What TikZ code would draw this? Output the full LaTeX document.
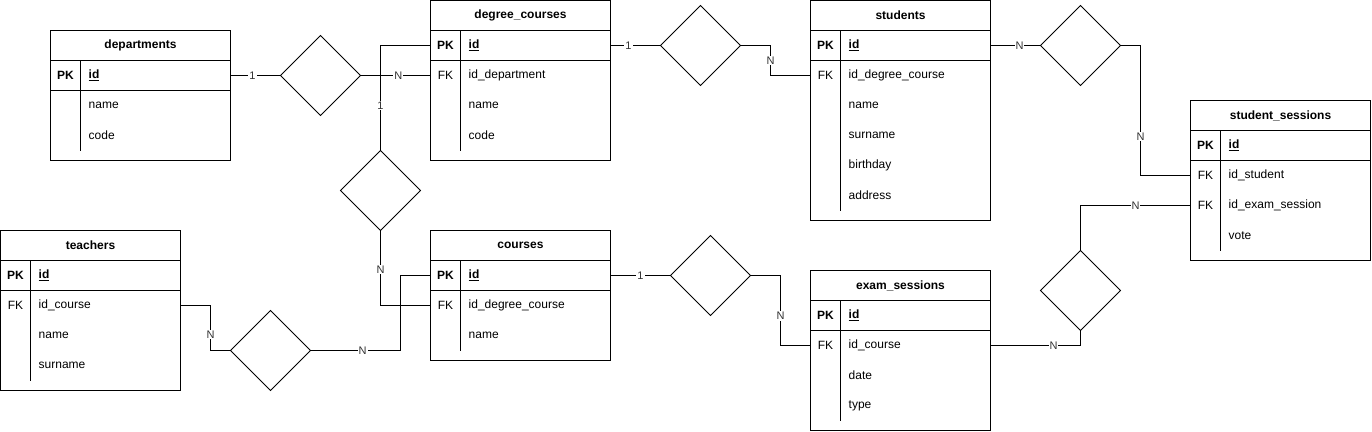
\documentclass[tikz,border=0pt]{standalone}
\usepackage{fontspec}
\setmainfont{Liberation Sans}
\usetikzlibrary{shapes.geometric,calc}
\tikzset{
  tbl/.style={draw, line width=1pt, minimum width=180pt, anchor=north west, inner sep=0pt, outer sep=0pt},
  rowbox/.style={minimum width=180pt, minimum height=30pt, inner sep=0pt, outer sep=0pt},
  titletext/.style={font=\fontsize{12}{14}\selectfont\bfseries, inner sep=0pt},
  keytext/.style={font=\fontsize{12}{14}\selectfont, inner sep=0pt},
  fieldtext/.style={font=\fontsize{12}{14}\selectfont, anchor=west, inner sep=0pt},
  rel/.style={diamond, draw, line width=1pt, minimum width=80pt, minimum height=80pt, inner sep=0pt, outer sep=0pt},
  conn/.style={line width=1pt},
  lbl/.style={font=\fontsize{11}{13}\selectfont, text=black!80, fill=white, inner sep=1pt},
}
\newcommand\ertable[5]{% name, left x, top y, title, height
  \node[tbl, minimum height=#5pt] (#1) at (#2,#3) {};
  \node[titletext] (#1-t) at ({#2+90},{#3+15}) {#4};
  \draw[line width=1pt] (#2,{#3+30}) -- ({#2+180},{#3+30});
  \draw[line width=1pt] (#2,{#3+60}) -- ({#2+180},{#3+60});
  \draw[line width=1pt] ({#2+30},{#3+30}) -- ({#2+30},{#3+#5-10});
}
\newcommand\errow[5]{% node name, left x, centre y, key, field
  \node[rowbox] (#1) at ({#2+90},#3) {};
  \node[keytext] (#1-k) at ({#2+15},#3) {#4};
  \node[fieldtext] (#1-f) at ({#2+38},#3) {#5};
}
\newcommand\pkfield{\textbf{\underline{id}}}
\begin{document}
\begin{tikzpicture}[x=1pt,y=-1pt]
\useasboundingbox (-0.5,-0.5) rectangle (1371.5,430.5);

% departments
\ertable{dep}{50}{30}{departments}{130}
\errow{dep-pk}{50}{75}{\textbf{PK}}{\pkfield}
\errow{dep-r1}{50}{105}{}{name}
\errow{dep-r2}{50}{135}{}{code}

% degree_courses
\ertable{dc}{430}{0}{degree\_courses}{160}
\errow{dc-pk}{430}{45}{\textbf{PK}}{\pkfield}
\errow{dc-fk}{430}{75}{FK}{id\_department}
\errow{dc-r1}{430}{105}{}{name}
\errow{dc-r2}{430}{135}{}{code}

% students
\ertable{st}{810}{0}{students}{220}
\errow{st-pk}{810}{45}{\textbf{PK}}{\pkfield}
\errow{st-fk}{810}{75}{FK}{id\_degree\_course}
\errow{st-r1}{810}{105}{}{name}
\errow{st-r2}{810}{135}{}{surname}
\errow{st-r3}{810}{165}{}{birthday}
\errow{st-r4}{810}{195}{}{address}

% student_sessions
\ertable{ss}{1190}{100}{student\_sessions}{160}
\errow{ss-pk}{1190}{145}{\textbf{PK}}{\pkfield}
\errow{ss-fk1}{1190}{175}{FK}{id\_student}
\errow{ss-fk2}{1190}{205}{FK}{id\_exam\_session}
\errow{ss-r1}{1190}{235}{}{vote}

% teachers
\ertable{te}{0}{230}{teachers}{160}
\errow{te-pk}{0}{275}{\textbf{PK}}{\pkfield}
\errow{te-fk}{0}{305}{FK}{id\_course}
\errow{te-r1}{0}{335}{}{name}
\errow{te-r2}{0}{365}{}{surname}

% courses
\ertable{cs}{430}{230}{courses}{130}
\errow{cs-pk}{430}{275}{\textbf{PK}}{\pkfield}
\errow{cs-fk}{430}{305}{FK}{id\_degree\_course}
\errow{cs-r1}{430}{335}{}{name}

% exam_sessions
\ertable{ex}{810}{270}{exam\_sessions}{160}
\errow{ex-pk}{810}{315}{\textbf{PK}}{\pkfield}
\errow{ex-fk}{810}{345}{FK}{id\_course}
\errow{ex-r1}{810}{375}{}{date}
\errow{ex-r2}{810}{405}{}{type}

% relationships
\node[rel] (r1) at (320,75) {};
\node[rel] (r2) at (700,45) {};
\node[rel] (r3) at (1080,45) {};
\node[rel] (r4) at (380,190) {};
\node[rel] (r5) at (270,350) {};
\node[rel] (r6) at (710,275) {};
\node[rel] (r7) at (1080,290) {};

% connectors
\draw[conn] (dep-pk.east) -- node[lbl, pos=0.44] {1} (r1.west);
\draw[conn] (r1.east) -- node[lbl, pos=0.54] {N} (dc-fk.west);
\draw[conn] (dc-pk.west) -| node[lbl, pos=0.785] {1} (r4.north);
\draw[conn] (r4.south) |- node[lbl, pos=0.26] {N} (cs-fk.west);
\draw[conn] (dc-pk.east) -- node[lbl, pos=0.36] {1} (r2.west);
\draw[conn] (r2.east) -- ++(30,0) |- node[lbl, pos=0.25] {N} (st-fk.west);
\draw[conn] (st-pk.east) -- node[lbl, pos=0.58] {N} (r3.west);
\draw[conn] (r3.east) -- ++(20,0) |- node[lbl, pos=0.35] {N} (ss-fk1.west);
\draw[conn] (te-fk.east) -- ++(30,0) |- node[lbl, pos=0.32] {N} (r5.west);
\draw[conn] (r5.east) -- node[lbl, pos=0.58] {N} ++(90,0) |- (cs-pk.west);
\draw[conn] (cs-pk.east) -- node[lbl, pos=0.5] {1} (r6.west);
\draw[conn] (r6.east) -- ++(30,0) |- node[lbl, pos=0.29] {N} (ex-fk.west);
\draw[conn] (ex-fk.east) -| node[lbl, pos=0.35] {N} (r7.south);
\draw[conn] (r7.north) |- node[lbl, pos=0.75] {N} (ss-fk2.west);
\end{tikzpicture}
\end{document}
